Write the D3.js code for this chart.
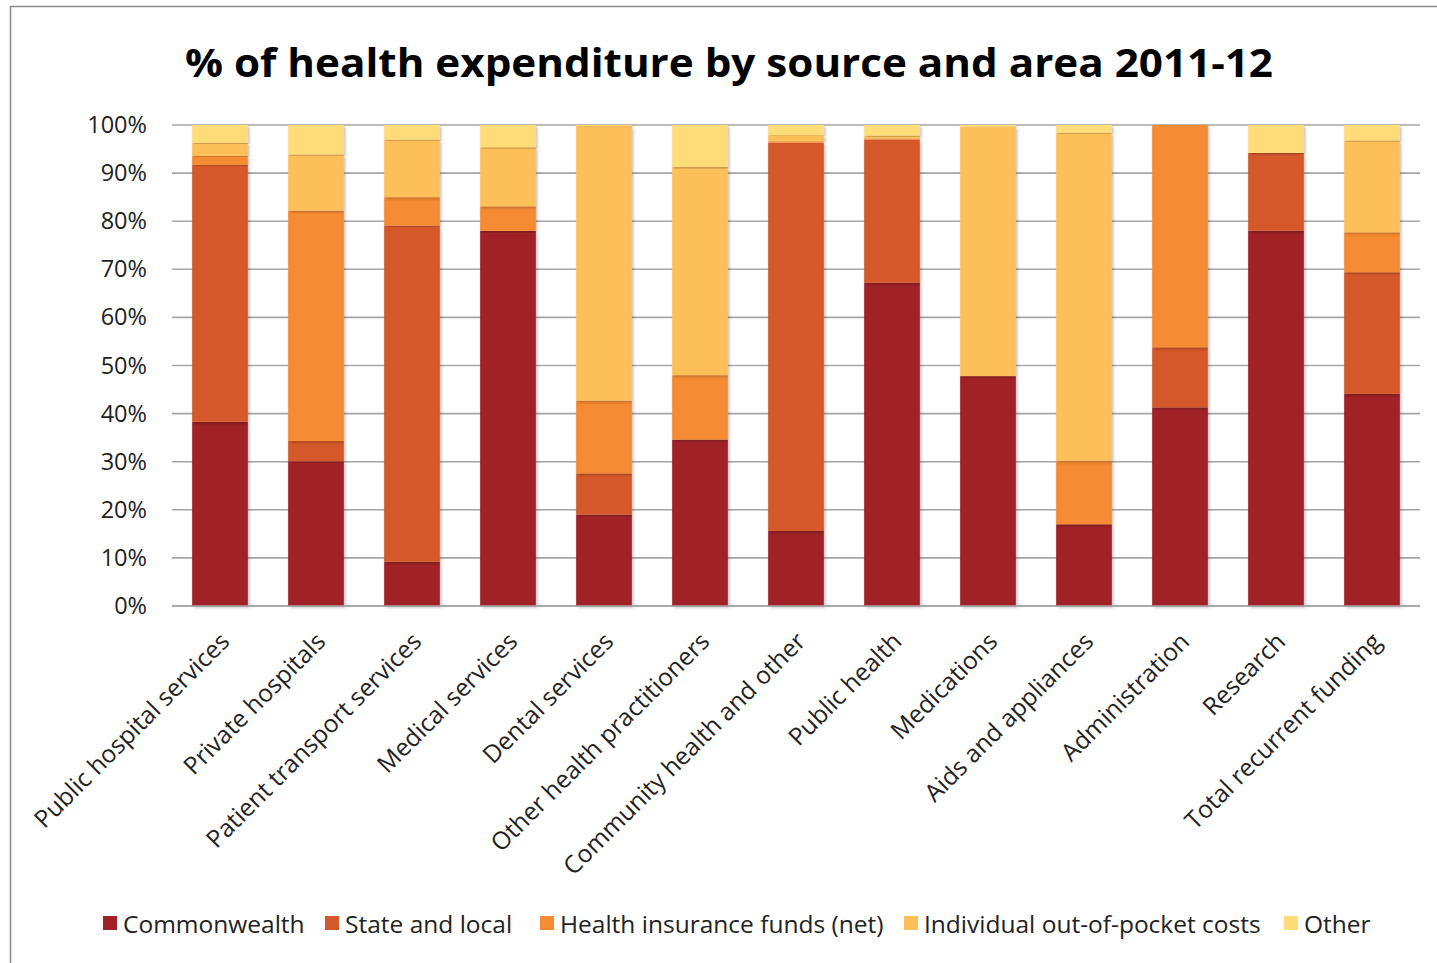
<!DOCTYPE html>
<html><head><meta charset="utf-8">
<script src="https://cdn.jsdelivr.net/npm/d3@7"></script>
<style>
html,body{margin:0;padding:0;background:#fff;}
text{font-family:"Open Sans",Lato,sans-serif;}
</style></head>
<body><svg id="c" width="1437" height="963"></svg>
<script>
const categories = ["Public hospital services","Private hospitals","Patient transport services","Medical services","Dental services","Other health practitioners","Community health and other","Public health","Medications","Aids and appliances","Administration","Research","Total recurrent funding"];
const seriesNames = ["Commonwealth","State and local","Health insurance funds (net)","Individual out-of-pocket costs","Other"];
const commonwealth = [38.3,30.1,9.2,78.0,19.0,34.6,15.6,67.2,47.8,17.0,41.3,78.0,44.1];
const stateLocal   = [53.4,4.2,69.9,0,8.6,0,80.7,29.8,0,0,12.5,16.2,25.3];
const insurance    = [1.9,47.9,5.9,5.1,15.1,13.4,0.3,0.2,0,13.2,46.2,0,8.3];
const individual   = [2.7,11.7,12.0,12.3,57.1,43.3,1.3,0.6,51.9,68.2,0,0,19.1];
const other        = [3.7,6.1,3.0,4.6,0.2,8.7,2.1,2.2,0.3,1.6,0,5.8,3.2];
const yTicks = [0,10,20,30,40,50,60,70,80,90,100];
const colors = ["#A02127","#D4592A","#F58B33","#FDBF58","#FFDC7A"];

const FONT = "'Open Sans',Lato,sans-serif";
const svg = d3.select("#c");

// frame
svg.append("rect").attr("x",10.5).attr("y",6.5).attr("width",1440).attr("height",970)
  .attr("fill","#fff").attr("stroke","#8c8c8c").attr("stroke-width",1.5);

const defs = svg.append("defs");
const f = defs.append("filter").attr("id","sh").attr("x","-20%").attr("y","-5%").attr("width","140%").attr("height","110%");
f.append("feDropShadow").attr("dx",1.5).attr("dy",1.5).attr("stdDeviation",1.5).attr("flood-color","#000").attr("flood-opacity",0.25);

svg.append("text").attr("x",729).attr("y",77).attr("text-anchor","middle")
  .attr("font-size",40).attr("font-weight","bold").attr("fill","#000")
  .attr("textLength",1088).attr("lengthAdjust","spacingAndGlyphs")
  .text("% of health expenditure by source and area 2011-12");

const x = d3.scaleBand().domain(categories).range([172,1420]).paddingInner(0.42).paddingOuter(0.21);
const y = d3.scaleLinear().domain([0,100]).range([606,125]);

// gridlines
svg.append("g").selectAll("line").data(yTicks).join("line")
  .attr("x1",172).attr("x2",1420).attr("y1",d=>y(d)).attr("y2",d=>y(d))
  .attr("stroke","#a6a6a6").attr("stroke-width",1.6);

// y axis labels
const yAxis = d3.axisLeft(y).tickValues(yTicks).tickFormat(d=>d+"%").tickSize(0).tickPadding(25);
const gy = svg.append("g").attr("transform","translate(172,0)").call(yAxis);
gy.select(".domain").remove();
gy.selectAll("text").attr("font-size",23.5).attr("fill","#222").attr("font-family",FONT);

// stacked data
const table = categories.map((c,i)=>({cat:c, s0:commonwealth[i], s1:stateLocal[i], s2:insurance[i], s3:individual[i], s4:other[i]}));
const stack = d3.stack().keys(["s0","s1","s2","s3","s4"])(table);

const gBars = svg.append("g");
gBars.selectAll("g").data(stack).join("g").attr("fill",(d,i)=>colors[i])
  .selectAll("rect").data(d=>d).join("rect")
  .attr("x",d=>x(d.data.cat)).attr("width",x.bandwidth())
  .attr("y",d=>y(d[1])).attr("height",d=>Math.max(0,y(d[0])-y(d[1])))
  .attr("filter","url(#sh)");

// baseline
svg.append("line").attr("x1",172).attr("x2",1420).attr("y1",y(0)).attr("y2",y(0)).attr("stroke","#a6a6a6").attr("stroke-width",1.6);

// x labels
const xAxis = d3.axisBottom(x).tickSize(0).tickPadding(0);
const gx = svg.append("g").attr("transform","translate(0,606)").call(xAxis);
gx.select(".domain").remove();
gx.selectAll("text").attr("font-size",24.5).attr("fill","#222").attr("font-family",FONT)
  .attr("text-anchor","end").attr("dy",0).attr("y",0)
  .attr("transform","translate(11,37) rotate(-45)");

// legend
const legX = [103,325,540,904,1284];
const leg = svg.append("g").selectAll("g").data(seriesNames).join("g")
  .attr("transform",(d,i)=>`translate(${legX[i]},924)`);
leg.append("rect").attr("x",0).attr("y",-8).attr("width",14).attr("height",14).attr("fill",(d,i)=>colors[i]);
leg.append("text").attr("x",20).attr("y",9).attr("font-size",24.5).attr("fill","#222").text(d=>d);
</script></body></html>
